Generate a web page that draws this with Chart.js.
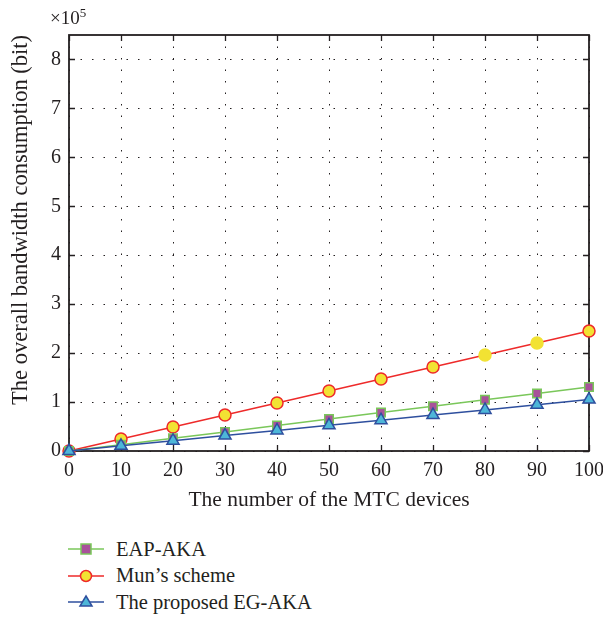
<!DOCTYPE html>
<html>
<head>
<meta charset="utf-8">
<script src="https://cdn.jsdelivr.net/npm/chart.js@4.4.0/dist/chart.umd.min.js"></script>
<style>
  body { margin: 0; background: #fff; font-family: 'Liberation Serif', 'DejaVu Serif', serif; color: #231f20; }
  #wrap { position: relative; width: 603px; height: 620px; }
  #chart-box { position: absolute; left: 0; top: 0; width: 603px; height: 515px; }
  #exp { position: absolute; left: 50px; top: 5px; font-size: 19px; }
  #exp sup { font-size: 13px; }
  #legend { position: absolute; left: 66px; top: 536px; }
  .lg-row { height: 26.5px; display: flex; align-items: center; font-size: 20.5px; white-space: nowrap; }
  .lg-row svg { margin-right: 10px; }
</style>
</head>
<body>
<div id="wrap">
  <div id="chart-box"><canvas id="bw-chart"></canvas></div>
  <div id="exp">&times;10<sup>5</sup></div>
  <div id="legend"></div>
</div>
<script>
// data (bandwidth in units of 10^5 bit)
const devices = [0, 10, 20, 30, 40, 50, 60, 70, 80, 90, 100];
const eapAka = [0, 0.13, 0.26, 0.39, 0.52, 0.655, 0.785, 0.915, 1.045, 1.175, 1.31];
const munScheme = [0, 0.245, 0.49, 0.735, 0.98, 1.225, 1.47, 1.715, 1.96, 2.205, 2.45];
const egAka = [0, 0.105, 0.21, 0.315, 0.42, 0.525, 0.63, 0.735, 0.84, 0.945, 1.05];
const seriesNames = ['EAP-AKA', 'Mun\u2019s scheme', 'The proposed EG-AKA'];
const xTicks = [0, 10, 20, 30, 40, 50, 60, 70, 80, 90, 100];
const yTicks = [0, 1, 2, 3, 4, 5, 6, 7, 8];

const INK = '#231f20';
const serif = "'Liberation Serif', 'DejaVu Serif', serif";

function pts(arr) {
    return devices.map((d, i) => ({ x: d, y: arr[i] }));
}

// Mun's markers at 80 and 90 have no red ring in the original
const munBorders = devices.map((d, i) => (i === 8 || i === 9) ? '#f2e233' : '#ee2a2a');

// frame + inward tick marks
const frameTicks = {
    id: 'frameTicks',
    beforeDatasetsDraw(chart) {
        const { ctx, chartArea: a, scales } = chart;
        ctx.save();
        ctx.strokeStyle = INK;
        ctx.lineWidth = 1.3;
        ctx.beginPath();
        xTicks.forEach(v => {
            const x = Math.round(scales.x.getPixelForValue(v)) + 0.5;
            ctx.moveTo(x, a.bottom); ctx.lineTo(x, a.bottom - 6);
            ctx.moveTo(x, a.top); ctx.lineTo(x, a.top + 6);
        });
        yTicks.forEach(v => {
            const y = Math.round(scales.y.getPixelForValue(v)) + 0.5;
            ctx.moveTo(a.left, y); ctx.lineTo(a.left + 6, y);
            ctx.moveTo(a.right, y); ctx.lineTo(a.right - 6, y);
        });
        ctx.stroke();
        ctx.lineWidth = 1.8;
        ctx.strokeRect(a.left, a.top, a.right - a.left, a.bottom - a.top);
        ctx.restore();
    }
};

const datasets = [
    {
        label: seriesNames[0],
        data: pts(eapAka),
        borderColor: '#7ac75a',
        backgroundColor: '#a8529a',
        pointBackgroundColor: '#a8529a',
        pointBorderColor: '#7ac75a',
        pointStyle: 'rect',
        pointRadius: 6,
        pointBorderWidth: 1.5,
        borderWidth: 1.5,
        order: 2,
        clip: false
    },
    {
        label: seriesNames[1],
        data: pts(munScheme),
        borderColor: '#ee2a2a',
        backgroundColor: '#f2e233',
        pointBackgroundColor: '#f2e233',
        pointBorderColor: munBorders,
        pointStyle: 'circle',
        pointRadius: 6,
        pointBorderWidth: 1.5,
        borderWidth: 1.5,
        order: 3,
        clip: false
    },
    {
        label: seriesNames[2],
        data: pts(egAka),
        borderColor: '#2e4f9e',
        backgroundColor: '#4db6d8',
        pointBackgroundColor: '#4db6d8',
        pointBorderColor: '#2e4f9e',
        pointStyle: 'triangle',
        pointRadius: 7,
        pointBorderWidth: 1.5,
        borderWidth: 1.5,
        order: 1,
        clip: false
    }
];

const chartConfig = {
    type: 'line',
    data: { datasets: datasets },
    options: {
        responsive: true,
        maintainAspectRatio: false,
        animation: false,
        layout: { padding: { top: 35, right: 14, left: 0, bottom: 0 } },
        plugins: {
            legend: { display: false },
            tooltip: { enabled: false }
        },
        scales: {
            x: {
                type: 'linear',
                min: 0,
                max: 100,
                afterBuildTicks: (scale) => { scale.ticks = xTicks.map(v => ({ value: v })); },
                afterFit: (scale) => {
                    scale.height = 64;
                    scale.paddingLeft = 0;
                    scale.paddingRight = 0;
                },
                ticks: { color: INK, font: { family: serif, size: 20 }, padding: 8, maxRotation: 0 },
                grid: { color: INK, lineWidth: 1, drawTicks: false },
                border: { display: false, dash: [1.5, 10] },
                title: {
                    display: true,
                    text: 'The number of the MTC devices',
                    color: INK,
                    font: { family: serif, size: 21.5 },
                    padding: { top: 0, bottom: 2 }
                }
            },
            y: {
                min: 0,
                max: 8.5,
                afterBuildTicks: (scale) => { scale.ticks = yTicks.map(v => ({ value: v })); },
                afterFit: (scale) => {
                    scale.width = 69;
                    scale.paddingTop = 0;
                    scale.paddingBottom = 0;
                },
                ticks: { color: INK, font: { family: serif, size: 20 }, padding: 8 },
                grid: { color: INK, lineWidth: 1, drawTicks: false },
                border: { display: false, dash: [1.5, 10] },
                title: {
                    display: true,
                    text: 'The overall bandwidth consumption (bit)',
                    align: 'end',
                    color: INK,
                    font: { family: serif, size: 22.5 },
                    padding: { top: 8, bottom: 0 }
                }
            }
        }
    },
    plugins: [frameTicks]
};

const ctx = document.getElementById('bw-chart').getContext('2d');
window.bwChart = new Chart(ctx, chartConfig);

// html legend, one row per series
function markerSvg(ds) {
    const line = `<line x1="2" y1="10" x2="38" y2="10" stroke="${ds.borderColor}" stroke-width="1.5"/>`;
    let mark = '';
    if (ds.pointStyle === 'rect') {
        mark = `<rect x="15" y="5" width="10" height="10" fill="${ds.backgroundColor}" stroke="${ds.borderColor}" stroke-width="1.5"/>`;
    } else if (ds.pointStyle === 'circle') {
        mark = `<circle cx="20" cy="10" r="5.5" fill="${ds.backgroundColor}" stroke="${ds.borderColor}" stroke-width="1.5"/>`;
    } else {
        mark = `<polygon points="20,4 26,14 14,14" fill="${ds.backgroundColor}" stroke="${ds.borderColor}" stroke-width="1.5"/>`;
    }
    return `<svg width="40" height="20">${line}${mark}</svg>`;
}
const legendEl = document.getElementById('legend');
datasets.forEach(ds => {
    const row = document.createElement('div');
    row.className = 'lg-row';
    row.innerHTML = markerSvg(ds) + '<span></span>';
    row.querySelector('span').textContent = ds.label;
    legendEl.appendChild(row);
});
</script>
</body>
</html>
